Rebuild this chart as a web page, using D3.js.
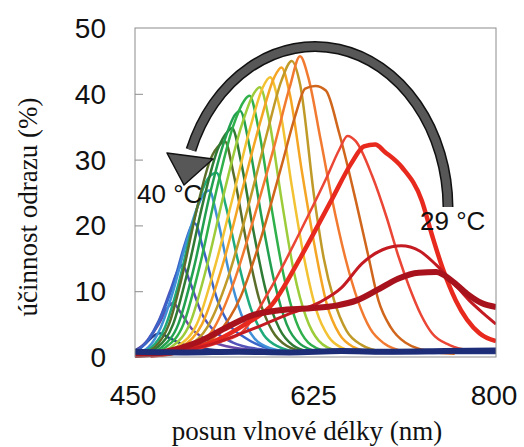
<!DOCTYPE html>
<html>
<head>
<meta charset="utf-8">
<script src="https://cdn.jsdelivr.net/npm/d3@7"></script>
<style>
  body { margin: 0; background: #fff; }
  svg { display: block; }
  .tick-label { font-family: "Liberation Sans", Arial, sans-serif; font-size: 28px; fill: #111; }
  .note { font-family: "Liberation Sans", Arial, sans-serif; font-size: 26px; fill: #111; }
  .title { font-family: "Liberation Serif", "Times New Roman", serif; font-size: 27px; fill: #111; }
</style>
</head>
<body>
<div id="chart"></div>
<script>
// spectra, [wavelength nm, reflection %], 29 °C -> 40 °C
const s01 = [[450,0.3],[480,0.8],[510,2.2],[540,4.6],[565,6.4],[590,7.1],[620,7.4],[645,7.8],[665,8.6],[685,10.2],[705,11.9],[725,12.8],[742,12.9],[757,11.6],[772,9.6],[786,8.2],[800,7.6]]
const s02 = [[455,0.2],[490,0.8],[525,2],[560,4],[600,6.6],[630,8.4],[650,10.5],[670,14.2],[690,16.3],[708,16.9],[726,16.1],[742,14],[758,11.4],[774,8.6],[788,6.6],[800,5]]
const s03 = [[465,0.2],[500,1],[530,2.6],[555,4.8],[583,8],[610,15],[641,24],[660,29.5],[672,32],[683,32.3],[692,31.2],[709,28.8],[728,23.8],[738,18.5],[748,13.6],[761,8.6],[784,3.6],[800,2.4]]
const s04 = [[470,0.2],[510,1.2],[535,2.4],[554,3.8],[580,10],[610,19],[635,27],[648,31.5],[656,33.6],[664,32.8],[680,27.5],[694,21.2],[705,15.5],[716,10.6],[727,6.5],[738,3.6],[755,1.8],[775,1],[800,0.8]]
const s05 = [[475,0.2],[505,1.2],[530,3.5],[552,9],[572,18],[592,29],[606,37],[615,40.8],[625,41.2],[635,40.5],[648,34],[664,23.8],[676,15.5],[686,8.6],[698,4.5],[712,2.2],[738,0.8],[760,0.5]]
const s06 = [[480,0.3],[505,1.5],[525,4],[545,11],[565,21],[585,32],[600,41],[610,45.7],[618,42.5],[630,33],[641,24],[654,15],[666,8.6],[678,4.3],[692,2],[712,0.8]]
const s07 = [[478,0.3],[500,1.5],[520,4.5],[540,12],[560,23],[578,34],[592,42],[602,45],[610,41.5],[624,24],[633,15],[643,8.6],[655,4],[670,1.8],[690,0.8]]
const s08 = [[475,0.3],[495,1.5],[515,5],[535,14],[555,26],[572,36],[585,42.5],[592,44],[600,40],[612,28],[624,17],[636,8],[648,3.5],[662,1.5],[680,0.7]]
const s09 = [[470,0.3],[490,1.5],[510,5],[528,14],[546,25],[562,35],[574,41],[581,42.5],[590,38],[602,26],[614,15],[626,7],[638,3],[652,1.3],[670,0.6]]
const s10 = [[465,0.3],[485,1.5],[503,5],[520,14],[538,26],[553,35],[565,40],[571,41],[580,36],[592,24],[604,13],[616,6],[628,2.5],[645,1]]
const s11 = [[460,0.3],[480,1.5],[497,5],[513,14],[530,26],[545,35],[556,39],[561,39.7],[570,34.5],[582,23],[594,12.5],[606,5.5],[618,2.2],[635,0.9]]
const s12 = [[458,0.3],[476,1.5],[492,5],[507,13.5],[523,25],[537,33],[547,36.8],[552,37.4],[561,32],[573,21],[585,11.5],[597,5],[610,2],[628,0.8]]
const s13 = [[455,0.3],[472,1.5],[487,5],[501,13],[516,23.5],[530,31.5],[540,34.3],[544,34.8],[553,29.5],[565,19],[577,10],[590,4.3],[603,1.8],[620,0.8]]
const s14 = [[452,0.3],[469,1.5],[483,5],[496,12.5],[510,22.5],[523,30],[533,32.4],[537,32.8],[546,27.5],[558,17.5],[570,9],[583,4],[597,1.7],[615,0.8]]
const s15 = [[450,0.4],[466,1.5],[479,4.5],[492,11],[505,19.5],[517,26],[525,27.8],[529,28],[538,23],[550,14.5],[562,7.5],[575,3.3],[590,1.5],[610,0.7]]
const s16 = [[450,0.5],[463,1.5],[475,4.5],[487,10],[499,17],[511,23],[518,25],[522,25.3],[530,21],[541,13],[553,6.5],[566,2.8],[582,1.3],[605,0.7]]
const s17 = [[450,0.6],[463,2.6],[475,6],[488,11.5],[498,17],[505,20],[508,20.3],[516,16.5],[530,8.6],[542,4.8],[556,3],[575,1.5],[600,0.8]]
const s18 = [[450,0.7],[462,2.5],[473,5.5],[484,10],[492,13.3],[496,14],[503,11.5],[515,6.5],[528,3.8],[545,2.2],[570,1.2],[600,0.8]]
const s19 = [[450,0.8],[462,2.5],[473,5],[482,7.6],[487,8.2],[494,6.8],[505,4.3],[520,2.6],[540,1.6],[570,1],[600,0.8]]
const s20 = [[450,1],[460,2],[468,3.2],[474,3.6],[482,3],[495,2],[515,1.3],[545,0.9],[600,0.7],[700,0.6],[800,0.6]]
const s21 = [[450,0.8],[500,0.7],[550,0.8],[600,0.7],[650,0.9],[700,0.8],[750,0.9],[800,1]]

const spectra = [s01, s02, s03, s04, s05, s06, s07, s08, s09, s10, s11, s12, s13, s14, s15, s16, s17, s18, s19, s20, s21]
const colors = ["#a8121c", "#c41a22", "#e82a1e", "#ea4535", "#d0651c", "#f27a30", "#c09a28", "#f5a524", "#f2c232",
                "#9ccc3a", "#2fb04a", "#22a050", "#2f7a34", "#5a6e2a", "#1faa7c", "#4090d8", "#3a64c8", "#5252b8",
                "#6a48a8", "#283a8a", "#1e2d78"]
const widths = [6, 3, 4.5, 2.5, 2.5, 2.5, 2.5, 2.5, 2.5, 2.5, 2.5, 2.5, 2.5, 2.5, 2.5, 2.5, 2.5, 2.5, 2.5, 2.5, 6]

const xTicks = [450, 625, 800]
const yTicks = [0, 10, 20, 30, 40, 50]

const width = 524, height = 447
const margin = {top: 28, right: 28, bottom: 90, left: 135}

const svg = d3.select("#chart")
    .append("svg")
    .attr("width", width)
    .attr("height", height)

const x = d3.scaleLinear().domain([450, 800]).range([margin.left, width - margin.right])
const y = d3.scaleLinear().domain([0, 50]).range([height - margin.bottom, margin.top])

svg.append("defs").append("clipPath").attr("id", "plot")
    .append("rect")
        .attr("x", x(450)).attr("y", y(50))
        .attr("width", x(800) - x(450)).attr("height", y(0) - y(50) + 3)

const line = d3.line()
    .x(d => x(d[0]))
    .y(d => y(d[1]))
    .curve(d3.curveMonotoneX)

// blue (40 °C) drawn first, reds on top, flat navy trace last
const order = d3.range(0, 20).reverse().concat([20])

const plot = svg.append("g").attr("clip-path", "url(#plot)")
plot.selectAll("path.spec")
    .data(order)
    .enter()
    .append("path")
        .classed("spec", true)
        .attr("d", i => line(spectra[i]))
        .attr("fill", "none")
        .attr("stroke", i => colors[i])
        .attr("stroke-width", i => widths[i])
        .attr("stroke-linejoin", "round")

// frame
svg.append("rect")
    .attr("x", x(450)).attr("y", y(50))
    .attr("width", x(800) - x(450)).attr("height", y(0) - y(50))
    .attr("fill", "none")
    .attr("stroke", "#8c8c8c")
    .attr("stroke-width", 1)

const yAxis = svg.append("g")
    .attr("transform", `translate(${x(450)},0)`)
    .call(d3.axisRight(y).tickValues(yTicks.slice(1, 5)).tickSize(8).tickFormat(""))
yAxis.select(".domain").remove()
yAxis.selectAll("line").attr("stroke", "#8c8c8c")

svg.selectAll("text.ylab")
    .data(yTicks)
    .enter()
    .append("text")
        .attr("class", "tick-label")
        .attr("x", 106)
        .attr("y", d => y(d) + 10)
        .attr("text-anchor", "end")
        .text(d => d)

svg.selectAll("text.xlab")
    .data(xTicks)
    .enter()
    .append("text")
        .attr("class", "tick-label")
        .attr("x", d => x(d) - 2)
        .attr("y", 405)
        .attr("text-anchor", "middle")
        .text(d => d)

svg.append("text")
    .attr("class", "title")
    .attr("x", 307)
    .attr("y", 440)
    .attr("text-anchor", "middle")
    .text("posun vlnové délky (nm)")

svg.append("text")
    .attr("class", "title")
    .attr("transform", "translate(37,207) rotate(-90)")
    .attr("text-anchor", "middle")
    .text("účinnost odrazu (%)")

// curved arrow 29 °C -> 40 °C
const arc = "M448,207 A133,162 0 0 0 191,150"
svg.append("path").attr("d", arc).attr("fill", "none").attr("stroke", "#111").attr("stroke-width", 11)
svg.append("path").attr("d", arc).attr("fill", "none").attr("stroke", "#575757").attr("stroke-width", 8)
svg.append("path")
    .attr("d", "M167,153 L213,159 L184,185 Z")
    .attr("fill", "#575757")
    .attr("stroke", "#111")
    .attr("stroke-width", 1.5)
    .attr("stroke-linejoin", "round")

svg.append("text").attr("class", "note").attr("x", 137).attr("y", 203).text("40 °C")
svg.append("text").attr("class", "note").attr("x", 420).attr("y", 230).text("29 °C")
</script>
</body>
</html>
